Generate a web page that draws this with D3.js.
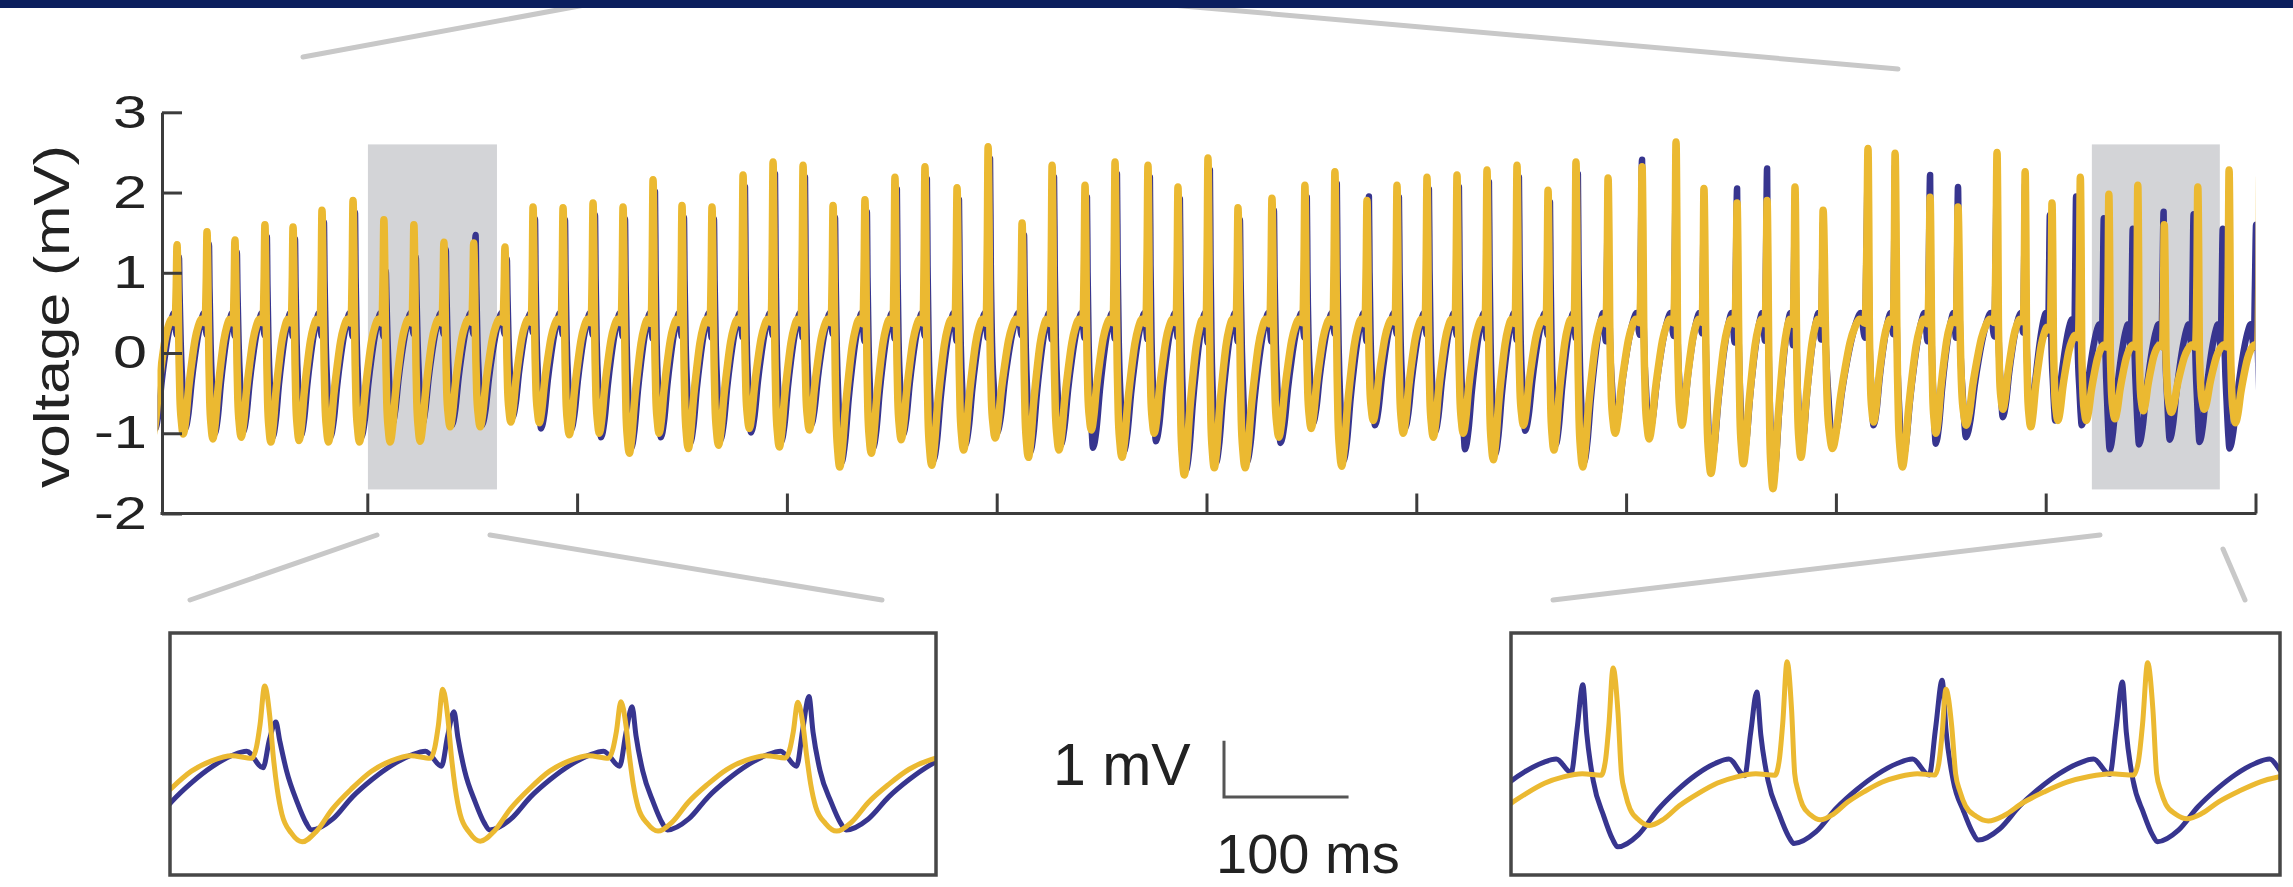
<!DOCTYPE html>
<html><head><meta charset="utf-8">
<script src="https://cdn.jsdelivr.net/npm/d3@7"></script>
<style>html,body{margin:0;padding:0;background:#fff;overflow:hidden}svg{display:block}</style>
</head><body>
<svg id="chart" width="2293" height="887"></svg>
<script>
// ---------- data ----------
// yellow-trace spike times (s)
const beatTimes = [0.093,0.236,0.369,0.512,0.646,0.784,0.932,1.079,1.222,1.365,
1.507,1.656,1.790,1.933,2.076,2.219,2.362,2.500,2.643,2.791,
2.934,3.077,3.220,3.372,3.515,3.658,3.811,3.959,4.121,4.264,
4.421,4.564,4.721,4.864,5.007,5.150,5.312,5.469,5.612,5.765,
5.908,6.051,6.194,6.337,6.480,6.628,6.761,6.914,7.076,7.238,
7.371,7.529,7.672,7.805,7.939,8.153,8.282,8.449,8.582,8.768,
8.902,9.030,9.165,9.301,9.439,9.565,9.725,9.874,10.020];
const yellowPeaks = [1.35,1.51,1.41,1.60,1.57,1.78,1.90,1.66,1.60,1.38,
1.37,1.32,1.82,1.81,1.87,1.82,2.16,1.84,1.82,2.22,
2.38,2.34,1.84,1.91,2.19,2.32,2.06,2.57,1.62,2.34,
2.09,2.38,2.34,2.07,2.43,1.81,1.93,2.09,2.26,1.90,
2.09,2.19,2.22,2.28,2.34,2.03,2.38,2.18,2.32,2.63,
2.05,1.87,1.90,2.07,1.78,2.55,2.49,1.94,1.82,2.50,
2.26,1.87,2.19,1.98,2.09,1.60,2.07,2.28,2.20];
const yellowTroughs = [-1.01,-1.07,-1.05,-1.11,-1.09,-1.11,-1.11,-1.11,-1.10,-0.92,
-0.92,-0.86,-0.87,-1.02,-1.00,-1.25,-1.00,-1.19,-1.15,-0.94,
-1.17,-0.96,-1.42,-1.25,-1.08,-1.40,-1.21,-1.06,-1.30,-1.21,
-0.96,-1.30,-1.00,-1.52,-1.43,-1.43,-1.05,-0.94,-1.41,-0.84,
-1.00,-1.05,-1.00,-1.33,-0.90,-1.21,-1.42,-1.00,-1.07,-0.90,
-1.50,-1.38,-1.69,-1.30,-1.19,-0.86,-1.42,-1.00,-0.90,-0.70,
-0.92,-0.84,-0.84,-0.82,-0.72,-0.74,-0.70,-0.87,-0.90];
const yellowPlateau = [0.42,0.42,0.42,0.42,0.42,0.42,0.42,0.42,0.42,0.42,
0.42,0.42,0.42,0.42,0.42,0.42,0.42,0.42,0.42,0.42,
0.42,0.42,0.42,0.42,0.42,0.42,0.42,0.42,0.42,0.42,
0.42,0.42,0.42,0.42,0.42,0.42,0.42,0.42,0.42,0.42,
0.42,0.42,0.42,0.42,0.42,0.42,0.42,0.42,0.42,0.42,
0.42,0.42,0.42,0.42,0.42,0.42,0.42,0.42,0.42,0.42,
0.32,0.22,0.10,0.10,0.10,0.10,0.10,0.10,0.10];
// blue trace: spike offset from the yellow spike (s), peaks, troughs, plateau
const blueLag = [0.009,0.009,0.009,0.009,0.009,0.009,0.009,0.009,0.009,0.009,
0.009,0.009,0.009,0.009,0.009,0.009,0.009,0.009,0.009,0.009,
0.009,0.009,0.009,0.009,0.009,0.009,0.009,0.009,0.009,0.009,
0.009,0.009,0.009,0.009,0.009,0.009,0.009,0.009,0.009,0.009,
0.009,0.009,0.009,0.009,0.009,0.009,0.009,0.0,0.0,0.0,
0.0,0.0,0.0,0.0,0.0,0.0,0.0,0.0,0.0,0.0,
0.0,-0.01,-0.02,-0.024,-0.024,-0.003,-0.02,-0.03,-0.017];
const bluePeaks = [1.20,1.36,1.26,1.45,1.42,1.63,1.75,1.02,1.20,1.29,
1.47,1.17,1.67,1.66,1.72,1.67,2.01,1.69,1.67,2.07,
2.23,2.19,1.69,1.76,2.04,2.17,1.91,2.42,1.47,2.19,
1.94,2.23,2.19,1.92,2.28,1.66,1.78,1.94,2.11,1.95,
1.94,2.04,2.07,2.13,2.19,1.88,2.23,2.03,2.41,2.48,
1.90,2.05,2.30,1.92,1.63,2.40,2.34,2.22,2.07,2.35,
2.11,1.72,1.95,1.68,1.55,1.76,1.73,1.55,1.60];
const blueTroughs = [-0.95,-1.01,-0.99,-1.05,-1.03,-1.05,-1.05,-0.90,-0.90,-0.90,
-0.90,-0.80,-0.94,-0.96,-1.05,-1.19,-1.05,-1.13,-1.09,-0.99,
-1.11,-0.90,-1.36,-1.19,-1.02,-1.34,-1.15,-1.00,-1.24,-1.15,
-1.18,-1.24,-1.10,-1.46,-1.37,-1.37,-1.12,-0.88,-1.35,-0.90,
-0.94,-0.99,-1.20,-1.27,-0.97,-1.15,-1.36,-0.94,-1.01,-0.84,
-1.44,-1.32,-1.63,-1.24,-1.13,-0.90,-1.36,-1.13,-1.05,-0.80,
-0.86,-0.84,-0.90,-1.20,-1.14,-1.08,-1.11,-1.19,-1.10];
const bluePlateau = [0.5,0.5,0.5,0.5,0.5,0.5,0.5,0.5,0.5,0.5,
0.5,0.5,0.5,0.5,0.5,0.5,0.5,0.5,0.5,0.5,
0.5,0.5,0.5,0.5,0.5,0.5,0.5,0.5,0.5,0.5,
0.5,0.5,0.5,0.5,0.5,0.5,0.5,0.5,0.5,0.5,
0.5,0.5,0.5,0.5,0.5,0.5,0.5,0.5,0.5,0.5,
0.5,0.5,0.5,0.5,0.5,0.5,0.5,0.5,0.5,0.5,
0.5,0.42,0.36,0.36,0.36,0.36,0.36,0.36,0.36];
// beat shape: [phase, peak weight, plateau weight, trough weight]
const templateYellow = [[0,1,0,0],[0.028,0.58,0.42,0],[0.048,0,1,0],[0.07,0,0.62,0.38],[0.097,0,0.32,0.68],
[0.15,0,0.1,0.9],[0.21,0,0,1],[0.29,0,0.12,0.88],[0.38,0,0.38,0.62],[0.49,0,0.62,0.38],[0.6,0,0.82,0.18],
[0.71,0,0.94,0.06],[0.82,0,1,0],[0.93,0,0.97,0.03],[0.955,0.12,0.88,0],[0.975,0.45,0.55,0]];
const templateBlue = [[0,1,0,0],[0.022,0.35,0.65,0],[0.06,0,0.75,0.25],[0.12,0,0.35,0.65],[0.17,0,0.09,0.91],
[0.2,0,0,1],[0.32,0,0.14,0.86],[0.43,0,0.42,0.58],[0.54,0,0.64,0.36],[0.65,0,0.82,0.18],[0.76,0,0.95,0.05],
[0.84,0,1,0],[0.93,0,0.81,0.19],[0.965,0.4,0.6,0]];
const yTicks = [-2,-1,0,1,2,3];
const xTicks = [1,2,3,4,5,6,7,8,9,10];
const zoomWindows = [[1.003,1.618],[9.22,9.83]];
const zoomVolt = [-1.7,2.6];
const scaleBarMV = 1, scaleBarMS = 100;

// ---------- layout ----------
const COL_Y = "#EBB931", COL_B = "#37358F";
const FONT = "Liberation Sans, Arial, Helvetica, sans-serif";
const svg = d3.select("#chart");
const x = d3.scaleLinear().domain([0,10]).range([157.5,2255.5]);
const y = d3.scaleLinear().domain([-2,3]).range([513.5,112.3]);

function buildSeries(times, peaks, troughs, plateaus, template, lag){
  const n = times.length, pts = [];
  const tt = times.map((t,i)=>t + (lag ? lag[i] : 0));
  const T0 = tt[1]-tt[0];
  for(const [u,a,b,c] of template){
    pts.push([tt[0]-T0+u*T0, a*peaks[0]+b*plateaus[0]+c*troughs[0]]);
  }
  for(let k=0;k<n;k++){
    const t0 = tt[k], T = k<n-1 ? tt[k+1]-t0 : T0;
    for(const [u,a,b,c] of template){
      const P = (u>0.5 && k<n-1) ? peaks[k+1] : peaks[k];
      pts.push([t0+u*T, a*P + b*plateaus[k] + c*troughs[k]]);
    }
  }
  return pts;
}
const yellowSeries = buildSeries(beatTimes, yellowPeaks, yellowTroughs, yellowPlateau, templateYellow, null);
const blueSeries = buildSeries(beatTimes, bluePeaks, blueTroughs, bluePlateau, templateBlue, blueLag);

const defs = svg.append("defs");

// connector lines from the panel above
const conn = svg.append("g").attr("stroke","#C8C8C8").attr("stroke-width",5).attr("stroke-linecap","round");
conn.append("line").attr("x1",303).attr("y1",57).attr("x2",590).attr("y2",4);
conn.append("line").attr("x1",1160).attr("y1",4).attr("x2",1898).attr("y2",69);
svg.append("rect").attr("x",0).attr("y",0).attr("width",2293).attr("height",8).attr("fill","#0B1F5E");

// grey highlight windows
svg.append("g").selectAll("rect").data(zoomWindows).join("rect")
  .attr("x",d=>x(d[0])).attr("width",d=>x(d[1])-x(d[0]))
  .attr("y",y(zoomVolt[1])).attr("height",y(zoomVolt[0])-y(zoomVolt[1]))
  .attr("fill","#D3D4D7");

// main traces
defs.append("clipPath").attr("id","mainClip").append("rect")
  .attr("x",x(0)).attr("y",0).attr("width",x(10)-x(0)).attr("height",887);
const line = d3.line().x(d=>x(d[0])).y(d=>y(d[1])).curve(d3.curveMonotoneX);
const gMain = svg.append("g").attr("clip-path","url(#mainClip)");
gMain.append("path").attr("d",line(blueSeries)).attr("fill","none").attr("stroke",COL_B)
  .attr("stroke-width",6.5).attr("stroke-linejoin","round");
gMain.append("path").attr("d",line(yellowSeries)).attr("fill","none").attr("stroke",COL_Y)
  .attr("stroke-width",7.5).attr("stroke-linejoin","round");

// axes
const AX = "#3C3C3C";
const yAxis = svg.append("g").attr("transform","translate(162,0)")
  .call(d3.axisLeft(y).tickValues(yTicks).tickSizeInner(-20).tickSizeOuter(0).tickPadding(15).tickFormat(d=>String(d)));
yAxis.selectAll("path,line").attr("stroke",AX).attr("stroke-width",3);
yAxis.selectAll("text").attr("font-family",FONT).attr("font-size",46)
  .attr("fill","#222").attr("textLength",d=>String(d).length>1?53:34).attr("lengthAdjust","spacingAndGlyphs");
const xAxis = svg.append("g").attr("transform",`translate(0,${y(-2)})`)
  .call(d3.axisBottom(x).tickValues(xTicks).tickSizeInner(-20).tickSizeOuter(0).tickFormat(""));
xAxis.select(".domain").remove();
xAxis.selectAll("line").attr("stroke",AX).attr("stroke-width",3);
xAxis.append("line").attr("x1",160.5).attr("x2",x(10)+1).attr("y1",0).attr("y2",0).attr("stroke",AX).attr("stroke-width",3);

svg.append("text").attr("transform","translate(69,316.5) rotate(-90)").attr("text-anchor","middle")
  .attr("font-family",FONT).attr("font-size",50).attr("fill","#222")
  .attr("textLength",343).attr("lengthAdjust","spacingAndGlyphs").text("voltage (mV)");

// connectors to the insets
const conn2 = svg.append("g").attr("stroke","#C8C8C8").attr("stroke-width",5).attr("stroke-linecap","round");
conn2.append("line").attr("x1",377).attr("y1",535).attr("x2",190).attr("y2",600);
conn2.append("line").attr("x1",490).attr("y1",535).attr("x2",882).attr("y2",600);
conn2.append("line").attr("x1",2100).attr("y1",535).attr("x2",1553).attr("y2",600);
conn2.append("line").attr("x1",2223).attr("y1",549).attr("x2",2245).attr("y2",600);

// insets
const boxes = [{x0:170,x1:936,y0:633,y1:875},{x0:1511,x1:2280,y0:633,y1:875}];
const insetScales = [];
zoomWindows.forEach((win,i)=>{
  const b = boxes[i];
  const xi = d3.scaleLinear().domain(win).range([b.x0,b.x1]);
  const yi = d3.scaleLinear().domain(zoomVolt).range([b.y1,b.y0]);
  insetScales.push({xi,yi});
  defs.append("clipPath").attr("id","ic"+i).append("rect")
    .attr("x",b.x0).attr("y",b.y0).attr("width",b.x1-b.x0).attr("height",b.y1-b.y0);
  const li = d3.line().x(d=>xi(d[0])).y(d=>yi(d[1])).curve(d3.curveMonotoneX);
  const sel = s => s.filter(d=>d[0]>win[0]-0.3 && d[0]<win[1]+0.3);
  const g = svg.append("g").attr("clip-path",`url(#ic${i})`);
  g.append("path").attr("d",li(sel(blueSeries))).attr("fill","none").attr("stroke",COL_B).attr("stroke-width",5).attr("stroke-linejoin","round");
  g.append("path").attr("d",li(sel(yellowSeries))).attr("fill","none").attr("stroke",COL_Y).attr("stroke-width",5).attr("stroke-linejoin","round");
  svg.append("rect").attr("x",b.x0).attr("y",b.y0).attr("width",b.x1-b.x0).attr("height",b.y1-b.y0)
    .attr("fill","none").attr("stroke","#474747").attr("stroke-width",3.5);
});

// scale bar (uses inset scales)
const s0 = insetScales[0];
const barLenX = s0.xi(zoomWindows[0][0]+scaleBarMS/1000) - s0.xi(zoomWindows[0][0]);
const barLenY = s0.yi(0) - s0.yi(scaleBarMV);
const bx = 1224, by = 797;
svg.append("path").attr("d",`M${bx},${by-barLenY}V${by}H${bx+barLenX}`).attr("fill","none")
  .attr("stroke","#555").attr("stroke-width",3);
svg.append("text").attr("x",1053).attr("y",785).attr("font-family",FONT)
  .attr("font-size",59).attr("fill","#222").text(scaleBarMV+" mV");
svg.append("text").attr("x",1216).attr("y",873).attr("font-family",FONT)
  .attr("font-size",56).attr("fill","#222").text(scaleBarMS+" ms");
</script>
</body></html>
